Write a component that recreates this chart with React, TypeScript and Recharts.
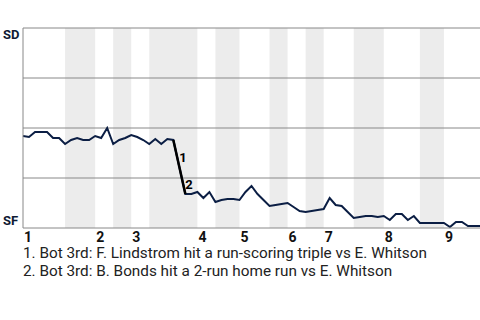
import { LineChart, Line, XAxis, YAxis, ReferenceArea, ReferenceLine, LabelList } from 'recharts';

// SD win probability (%) after each plate appearance (0 = game start)
const sdWinPct = [
  46, 45.5, 48, 48, 48, 45, 45, 42, 44, 45, 44, 44, 46, 45, 50, 42, 44, 45, 46.5, 45.5,
  44, 42, 44.5, 42, 44.5, 44, 30.5, 17, 17, 18, 15, 18, 13, 14, 14.5, 14.5, 14, 18, 21, 17,
  14, 11, 11.5, 12, 12.5, 10.5, 8.5, 8, 8.5, 9, 9.5, 15, 11.5, 11, 8, 5, 5.5, 6, 6, 5.5,
  6, 4, 7, 7, 4, 6, 2.5, 2.5, 2.5, 2.5, 2.5, 0.5, 3, 3, 1, 1, 1,
];

// plate appearance index where each inning starts
const inningLabels = ['1', '2', '3', '4', '5', '6', '7', '8', '9'];
const inningStarts = [0, 12, 18, 29, 36, 44, 50, 60, 70];

// bottom halves (shaded)
const bottomHalves: [number, number][] = [
  [7, 12], [15, 18], [21, 29], [32, 36], [41, 44], [47, 50], [55, 60], [66, 70],
];

// scoring plays: PA index -> marker
const keyPlays: Record<number, string> = { 26: '1', 27: '2' };
const keyPlayRange = [25, 27];

const notes = [
  '1. Bot 3rd: F. Lindstrom hit a run-scoring triple vs E. Whitson',
  '2. Bot 3rd: B. Bonds hit a 2-run home run vs E. Whitson',
];

const gridLevels = [25, 50, 75, 100];

const data = sdWinPct.map((p, i) => ({
  pa: i,
  sd: p,
  key: i >= keyPlayRange[0] && i <= keyPlayRange[1] ? p : null,
  note: keyPlays[i] ?? '',
}));

const FONT = 'Roboto, "Noto Sans", sans-serif';

const XTick = ({ x, payload }: any) => {
  const idx = inningStarts.indexOf(payload.value);
  return (
    <text x={x + 1} y={241.5} textAnchor="start" fontFamily={FONT} fontWeight={700} fontSize={14} fill="#111">
      {inningLabels[idx]}
    </text>
  );
};

const YTick = ({ y, payload }: any) => {
  const top = payload.value === 100;
  return (
    <text x={3} y={top ? y + 10.5 : y - 3} textAnchor="start" fontFamily={FONT} fontWeight={700} fontSize={13} fill="#0e1a33">
      {top ? 'SD' : 'SF'}
    </text>
  );
};

const PlayLabel = ({ x, y, value }: any) => {
  if (!value) return null;
  return (
    <text x={x} y={y - 5} textAnchor="start" fontFamily={FONT} fontWeight={700} fontSize={13} fill="#000">
      {value}
    </text>
  );
};

export default function App() {
  return (
    <div style={{ position: 'absolute', left: 0, top: 0, width: 480, height: 320, background: '#fff' }}>
      <LineChart width={480} height={320} data={data} margin={{ top: 28, right: 0, bottom: 80, left: 0 }}>
        <XAxis
          dataKey="pa"
          type="number"
          domain={[0, sdWinPct.length - 1]}
          ticks={inningStarts}
          interval={0}
          tickLine={false}
          tickSize={0}
          tickMargin={0}
          height={12}
          axisLine={{ stroke: '#888' }}
          tick={<XTick />}
        />
        <YAxis
          type="number"
          domain={[0, 100]}
          ticks={[0, 100]}
          width={23}
          tickLine={false}
          tickSize={0}
          tickMargin={0}
          axisLine={{ stroke: '#888' }}
          tick={<YTick />}
        />
        {bottomHalves.map(([a, b]) => (
          <ReferenceArea key={a} x1={a} x2={b} y1={0} y2={100} fill="#ececec" fillOpacity={1} stroke="none" />
        ))}
        {gridLevels.map((v) => (
          <ReferenceLine key={v} y={v} stroke="#888" strokeWidth={1} />
        ))}
        <Line
          type="linear"
          dataKey="sd"
          stroke="#0b1e44"
          strokeWidth={2}
          dot={false}
          isAnimationActive={false}
        />
        <Line
          type="linear"
          dataKey="key"
          stroke="#000"
          strokeWidth={2.5}
          dot={false}
          connectNulls={false}
          isAnimationActive={false}
        >
          <LabelList dataKey="note" content={<PlayLabel />} />
        </Line>
      </LineChart>
      <svg width={480} height={320} style={{ position: 'absolute', left: 0, top: 0, pointerEvents: 'none' }}>
        {notes.map((n, i) => (
          <text key={i} x={23} y={258 + i * 18} fontFamily={FONT} fontSize={15.3} fill="#222">
            {n}
          </text>
        ))}
      </svg>
    </div>
  );
}
